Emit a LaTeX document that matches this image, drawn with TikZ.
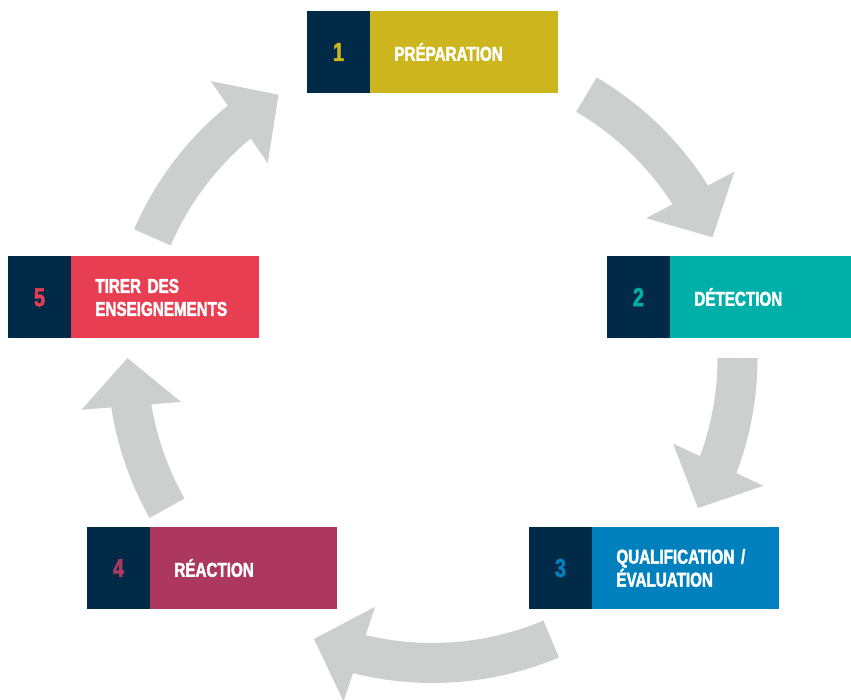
\documentclass[tikz,border=0pt]{standalone}
\usepackage{fontspec}
\setmainfont{Liberation Sans}[FakeStretch=0.76,BoldFeatures={FakeBold=2}]
\usetikzlibrary{arrows.meta,bending,positioning}
\definecolor{navy}{RGB}{0,42,72}
\definecolor{gold}{RGB}{205,182,29}
\definecolor{teal}{RGB}{0,176,168}
\definecolor{ocean}{RGB}{0,129,189}
\definecolor{plum}{RGB}{173,56,95}
\definecolor{coral}{RGB}{232,62,82}
\definecolor{ashgrey}{RGB}{205,207,206}
\tikzset{numbox/.style={fill=navy,minimum width=63pt,minimum height=82pt,inner sep=0pt,
    font=\fontsize{26}{26}\selectfont\bfseries}}
\tikzset{labelbox/.style={minimum height=82pt,inner xsep=24pt,inner ysep=0pt,align=left,
    text=white,font=\fontsize{20}{23}\selectfont\bfseries}}
\tikzset{cyclearrow/.style={draw=ashgrey,line width=40pt,-{Triangle[length=48pt,width=97pt]}}}

\begin{document}
\begin{tikzpicture}[x=1pt,y=1pt]
  \useasboundingbox (0,0) rectangle (851,700);
  \coordinate (c) at (432.5,342);

  % the five steps
  \node[numbox,text=gold] (n1) at (338.5,648) {1};
  \node[labelbox,fill=gold,text width=140pt,right=0pt of n1] (l1) {PRÉPARATION};
  \node[numbox,text=teal] (n2) at (638.5,403) {2};
  \node[labelbox,fill=teal,text width=133pt,right=0pt of n2] (l2) {DÉTECTION};
  \node[numbox,text=ocean] (n3) at (560.5,132) {3};
  \node[labelbox,fill=ocean,text width=139pt,right=0pt of n3] (l3) {QUALIFICATION /\\ÉVALUATION};
  \node[numbox,text=plum] (n4) at (118.5,132) {4};
  \node[labelbox,fill=plum,text width=139pt,right=0pt of n4] (l4) {RÉACTION};
  \node[numbox,text=coral] (n5) at (39.5,402.5) {5};
  \node[labelbox,fill=coral,text width=140pt,right=0pt of n5] (l5) {TIRER DES\\ENSEIGNEMENTS};

  % arrows on the circle
  \draw[cyclearrow] ([shift={(59.7:305)}]c) arc[start angle=59.7,end angle=23.3,radius=305];
  \draw[cyclearrow] ([shift={(0:305)}]c) arc[start angle=0,end angle=-29.5,radius=305];
  \draw[cyclearrow] ([shift={(-67.1:305)}]c) arc[start angle=-67.1,end angle=-112.9,radius=305];
  \draw[cyclearrow] ([shift={(209.5:305)}]c) arc[start angle=209.5,end angle=180,radius=305];
  \draw[cyclearrow] ([shift={(156.7:305)}]c) arc[start angle=156.7,end angle=120.3,radius=305];
\end{tikzpicture}
\end{document}
